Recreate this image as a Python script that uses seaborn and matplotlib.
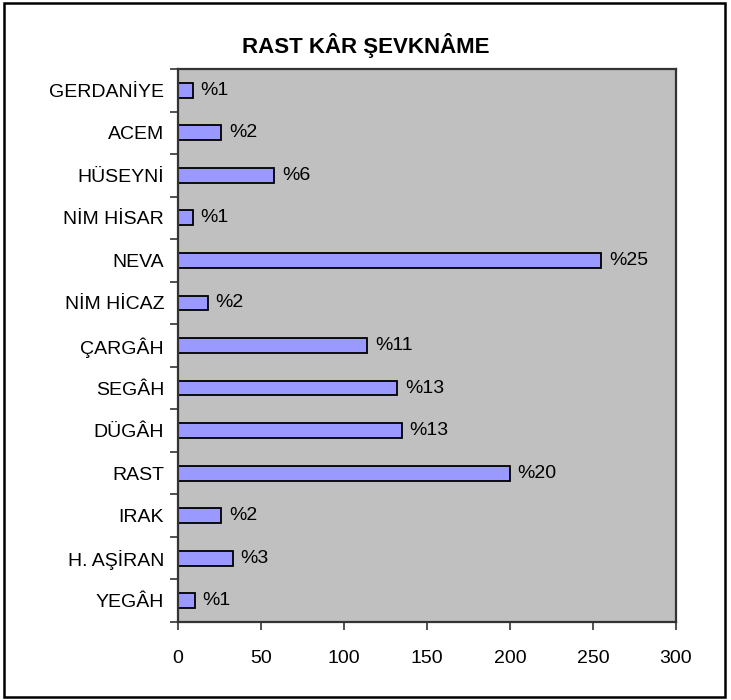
import numpy as np
import pandas as pd
import matplotlib
matplotlib.use("Agg")
import matplotlib.pyplot as plt
from matplotlib.patches import Rectangle
import seaborn as sns

# ── Data ──────────────────────────────────────────────────────────────────────
makams = ["GERDANİYE", "ACEM", "HÜSEYNİ", "NİM HİSAR", "NEVA", "NİM HİCAZ",
          "ÇARGÂH", "SEGÂH", "DÜGÂH", "RAST", "IRAK", "H. AŞİRAN", "YEGÂH"]
counts = [9, 26, 58, 9, 255, 18, 114, 132, 135, 200, 26, 33, 10]
pct_labels = ["%1", "%2", "%6", "%1", "%25", "%2", "%11", "%13", "%13",
              "%20", "%2", "%3", "%1"]
x_ticks = [0, 50, 100, 150, 200, 250, 300]

df = pd.DataFrame({"makam": makams, "count": counts})

# ── Style ─────────────────────────────────────────────────────────────────────
sns.set_theme(style="white")
plt.rcParams["font.family"] = ["Liberation Sans", "DejaVu Sans"]

BAR = "#9999FF"
PLOT_BG = "#C0C0C0"
FRAME = "#333333"

fig = plt.figure(figsize=(7.31, 7.0), dpi=100)
ax = fig.add_axes([178 / 731, 1 - 622 / 700, 498 / 731, 553 / 700])
ax.set_facecolor(PLOT_BG)

sns.barplot(data=df, x="count", y="makam", order=makams, orient="h",
            color=BAR, saturation=1, width=0.35,
            edgecolor="black", linewidth=1.3, ax=ax)

ax.bar_label(ax.containers[0], labels=pct_labels, padding=5.5,
             fontsize=14, color="black")

ax.set_xlim(0, 300)
ax.set_ylim(len(makams) - 0.5, -0.5)
ax.set_xticks(x_ticks)
ax.set_xticklabels([str(t) for t in x_ticks], fontsize=14, color="black")

# category labels in the middle, tick marks on the boundaries (Excel style)
ax.set_yticks(np.arange(-0.5, len(makams), 1))
ax.set_yticklabels([])
ax.set_yticks(np.arange(len(makams)), minor=True)
ax.set_yticklabels(makams, minor=True, fontsize=14, color="black")
ax.tick_params(axis="y", which="minor", length=0, pad=10)
ax.tick_params(axis="y", which="major", direction="out", length=6,
               width=1.2, color=FRAME, left=True)
ax.tick_params(axis="x", direction="out", length=6, width=1.2,
               color=FRAME, bottom=True, pad=14)

ax.set_xlabel("")
ax.set_ylabel("")
for side in ["top", "right", "bottom", "left"]:
    ax.spines[side].set_visible(True)
    ax.spines[side].set_color(FRAME)
    ax.spines[side].set_linewidth(1.6)
ax.grid(False)

fig.text(0.5, 1 - 45 / 700, "RAST KÂR ŞEVKNÂME", ha="center", va="center",
         fontsize=16, fontweight="bold", color="black")

# outer chart border
fig.add_artist(Rectangle((4 / 731, 3 / 700), 721 / 731, 694 / 700,
                         transform=fig.transFigure, fill=False,
                         edgecolor="black", linewidth=1.8))

fig.savefig("out.png", dpi=100, facecolor="white")
